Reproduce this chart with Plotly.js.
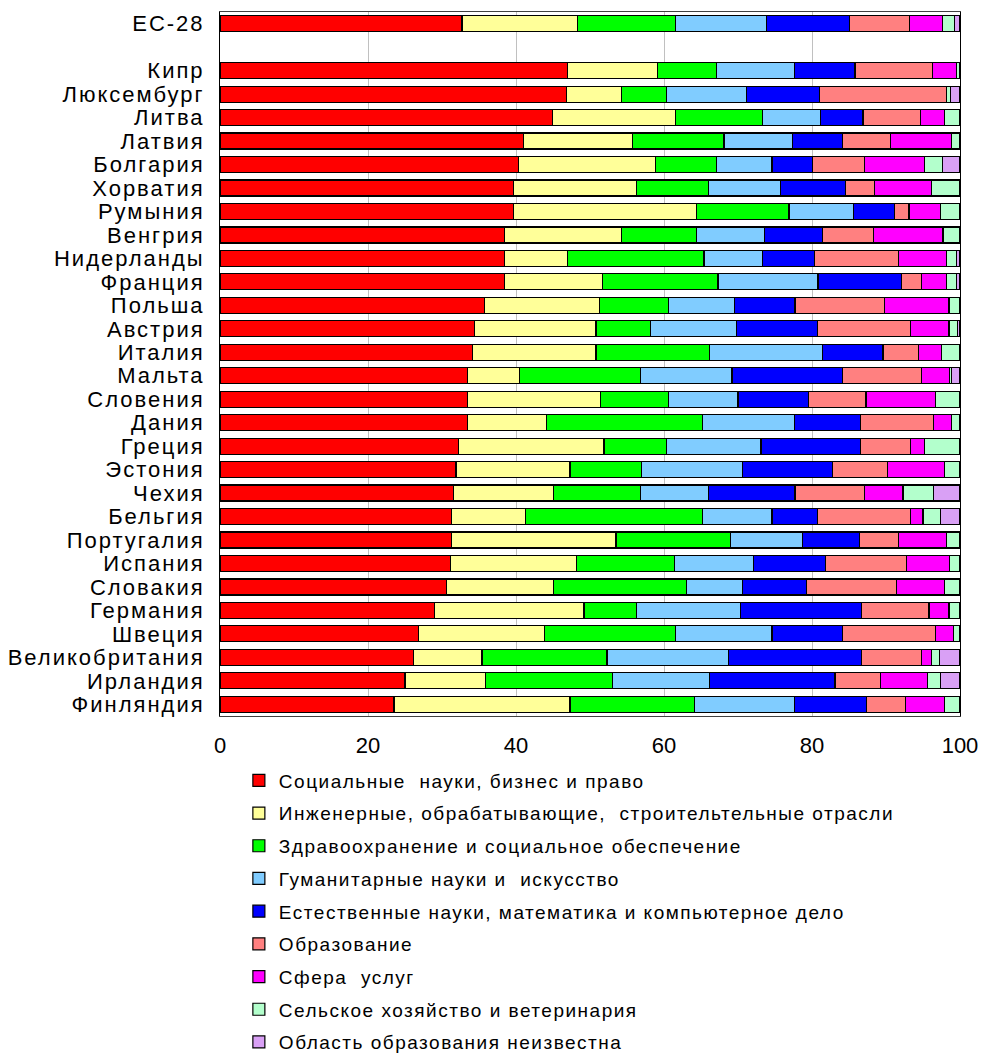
<!DOCTYPE html>
<html>
<head>
<meta charset="utf-8">
<script src="https://cdn.plot.ly/plotly-3.0.1.min.js"></script>
<style>
html,body{margin:0;padding:0;background:#fff;}
#chart{width:983px;height:1055px;}
.legendtext{letter-spacing:1.5px;}
.ytick text{letter-spacing:2px;}
</style>
</head>
<body>
<div id="chart"></div>
<script>
// Categories (top to bottom); blank slot after ЕС-28
const categories = ["ЕС-28"," ","Кипр","Люксембург","Литва","Латвия","Болгария","Хорватия","Румыния","Венгрия","Нидерланды","Франция","Польша","Австрия","Италия","Мальта","Словения","Дания","Греция","Эстония","Чехия","Бельгия","Португалия","Испания","Словакия","Германия","Швеция","Великобритания","Ирландия","Финляндия"];

const seriesNames = [
  "Социальные\u00a0 науки, бизнес и право",
  "Инженерные, обрабатывающие,\u00a0 строительтельные отрасли",
  "Здравоохранение и социальное обеспечение",
  "Гуманитарные науки и\u00a0 искусство",
  "Естественные науки, математика и компьютерное дело",
  "Образование",
  "Сфера\u00a0 услуг",
  "Сельское хозяйство и ветеринария",
  "Область образования неизвестна"
];

// values per category (same order as categories; null for blank slot)
const social      = [32.7,null,47.0,46.8,44.9,41.0,40.3,39.7,39.7,38.4,38.4,38.4,35.7,34.4,34.1,33.4,33.4,33.4,32.2,31.9,31.6,31.3,31.3,31.1,30.6,29.0,26.8,26.2,25.0,23.5];
const engineering = [15.6,null,12.1, 7.5,16.7,14.7,18.6,16.6,24.7,15.9, 8.6,13.3,15.6,16.4,16.7, 7.1,18.0,10.7,19.7,15.4,13.5,10.0,22.2,17.1,14.5,20.2,17.0, 9.2,10.9,23.8];
const health      = [13.3,null, 8.0, 6.0,11.7,12.4, 8.2, 9.7,12.5,10.1,18.4,15.6, 9.3, 7.4,15.4,16.3, 9.2,21.1, 8.4, 9.7,11.7,23.9,15.5,13.2,17.9, 7.1,17.8,16.9,17.1,16.8];
const humanities  = [12.2,null,10.5,10.8, 7.8, 9.3, 7.5, 9.7, 8.7, 9.2, 7.9,13.5, 8.9,11.6,15.2,12.4, 9.4,12.4,12.8,13.6, 9.2, 9.4, 9.7,10.7, 7.6,14.0,13.0,16.4,13.2,13.5];
const science     = [11.3,null, 8.2, 9.9, 5.8, 6.7, 5.5, 8.8, 5.5, 7.8, 7.0,11.3, 8.2,10.9, 8.2,14.9, 9.5, 9.0,13.5,12.2,11.7, 6.1, 7.7, 9.7, 8.7,16.4, 9.5,18.0,16.9, 9.8];
const education   = [ 8.1,null,10.5,17.2, 7.8, 6.5, 7.0, 3.9, 2.0, 6.9,11.4, 2.7,12.1,12.6, 4.8,10.7, 7.8, 9.8, 6.7, 7.4, 9.4,12.6, 5.3,11.0,12.1, 9.1,12.6, 8.1, 6.2, 5.2];
const services    = [ 4.4,null, 3.2, 0.0, 3.2, 8.2, 8.1, 7.7, 4.3, 9.4, 6.5, 3.4, 8.7, 5.2, 3.1, 3.8, 9.4, 2.4, 1.9, 7.7, 5.2, 1.7, 6.5, 5.8, 6.5, 2.7, 2.4, 1.3, 6.3, 5.3];
const agriculture = [ 1.7,null, 0.5, 0.5, 2.1, 1.2, 2.4, 3.9, 2.6, 2.3, 1.3, 1.3, 1.5, 1.2, 2.4, 0.2, 3.3, 1.2, 4.8, 2.1, 4.1, 2.4, 1.8, 1.4, 2.1, 1.5, 0.9, 1.1, 1.8, 2.1];
const unknown     = [ 0.7,null, 0.0, 1.3, 0.0, 0.0, 2.4, 0.0, 0.0, 0.0, 0.5, 0.5, 0.0, 0.3, 0.1, 1.2, 0.0, 0.0, 0.0, 0.0, 3.6, 2.6, 0.0, 0.0, 0.0, 0.0, 0.0, 2.8, 2.6, 0.0];

const xTicks = [0, 20, 40, 60, 80, 100];

const seriesValues = [social, engineering, health, humanities, science, education, services, agriculture, unknown];
const colors = ["#FF0000","#FFFF99","#00FF00","#80CCFF","#0000FF","#FF8080","#FF00FF","#B3FFCC","#D9A0F5"];

const font = "Liberation Sans, Arial, sans-serif";

const traces = seriesValues.map((vals, i) => ({
  type: "bar",
  orientation: "h",
  name: seriesNames[i],
  y: categories,
  x: vals,
  legendgroup: "g" + i,
  marker: {color: colors[i], line: {color: "#000000", width: 1.2}},
  hoverinfo: "x+y+name"
}));

const layout = {
  width: 983,
  height: 1055,
  margin: {l: 220, r: 23, t: 12, b: 339, autoexpand: false},
  paper_bgcolor: "#ffffff",
  plot_bgcolor: "#ffffff",
  barmode: "stack",
  bargap: 0.32,
  showlegend: true,
  font: {family: font, color: "#000000", size: 22},
  xaxis: {
    range: [0, 100],
    tickmode: "array",
    tickvals: xTicks,
    tickangle: 0,
    showgrid: true,
    gridcolor: "#C0C0C0",
    gridwidth: 1,
    zeroline: false,
    showline: true,
    linecolor: "#404040",
    linewidth: 1,
    mirror: true,
    ticks: "outside",
    ticklen: 10,
    tickcolor: "rgba(0,0,0,0)",
    automargin: false,
    tickfont: {family: font, size: 22, color: "#000000"}
  },
  yaxis: {
    type: "category",
    categoryorder: "array",
    categoryarray: categories,
    tickmode: "array",
    tickvals: categories,
    ticktext: categories,
    range: [categories.length - 0.5, -0.5],
    showgrid: false,
    zeroline: false,
    showline: true,
    linecolor: "#000000",
    linewidth: 1,
    mirror: true,
    ticks: "",
    ticklabelstandoff: 10,
    automargin: false,
    tickfont: {family: font, size: 22, color: "#000000"}
  },
  legend: {
    orientation: "v",
    traceorder: "grouped",
    tracegroupgap: 5,
    xref: "container",
    yref: "container",
    x: 0.243,
    xanchor: "left",
    y: 0.2782,
    yanchor: "top",
    font: {family: font, size: 19, color: "#000000"},
    bgcolor: "rgba(0,0,0,0)",
    borderwidth: 0
  }
};

Plotly.newPlot("chart", traces, layout, {displayModeBar: false, staticPlot: true});
</script>
</body>
</html>
